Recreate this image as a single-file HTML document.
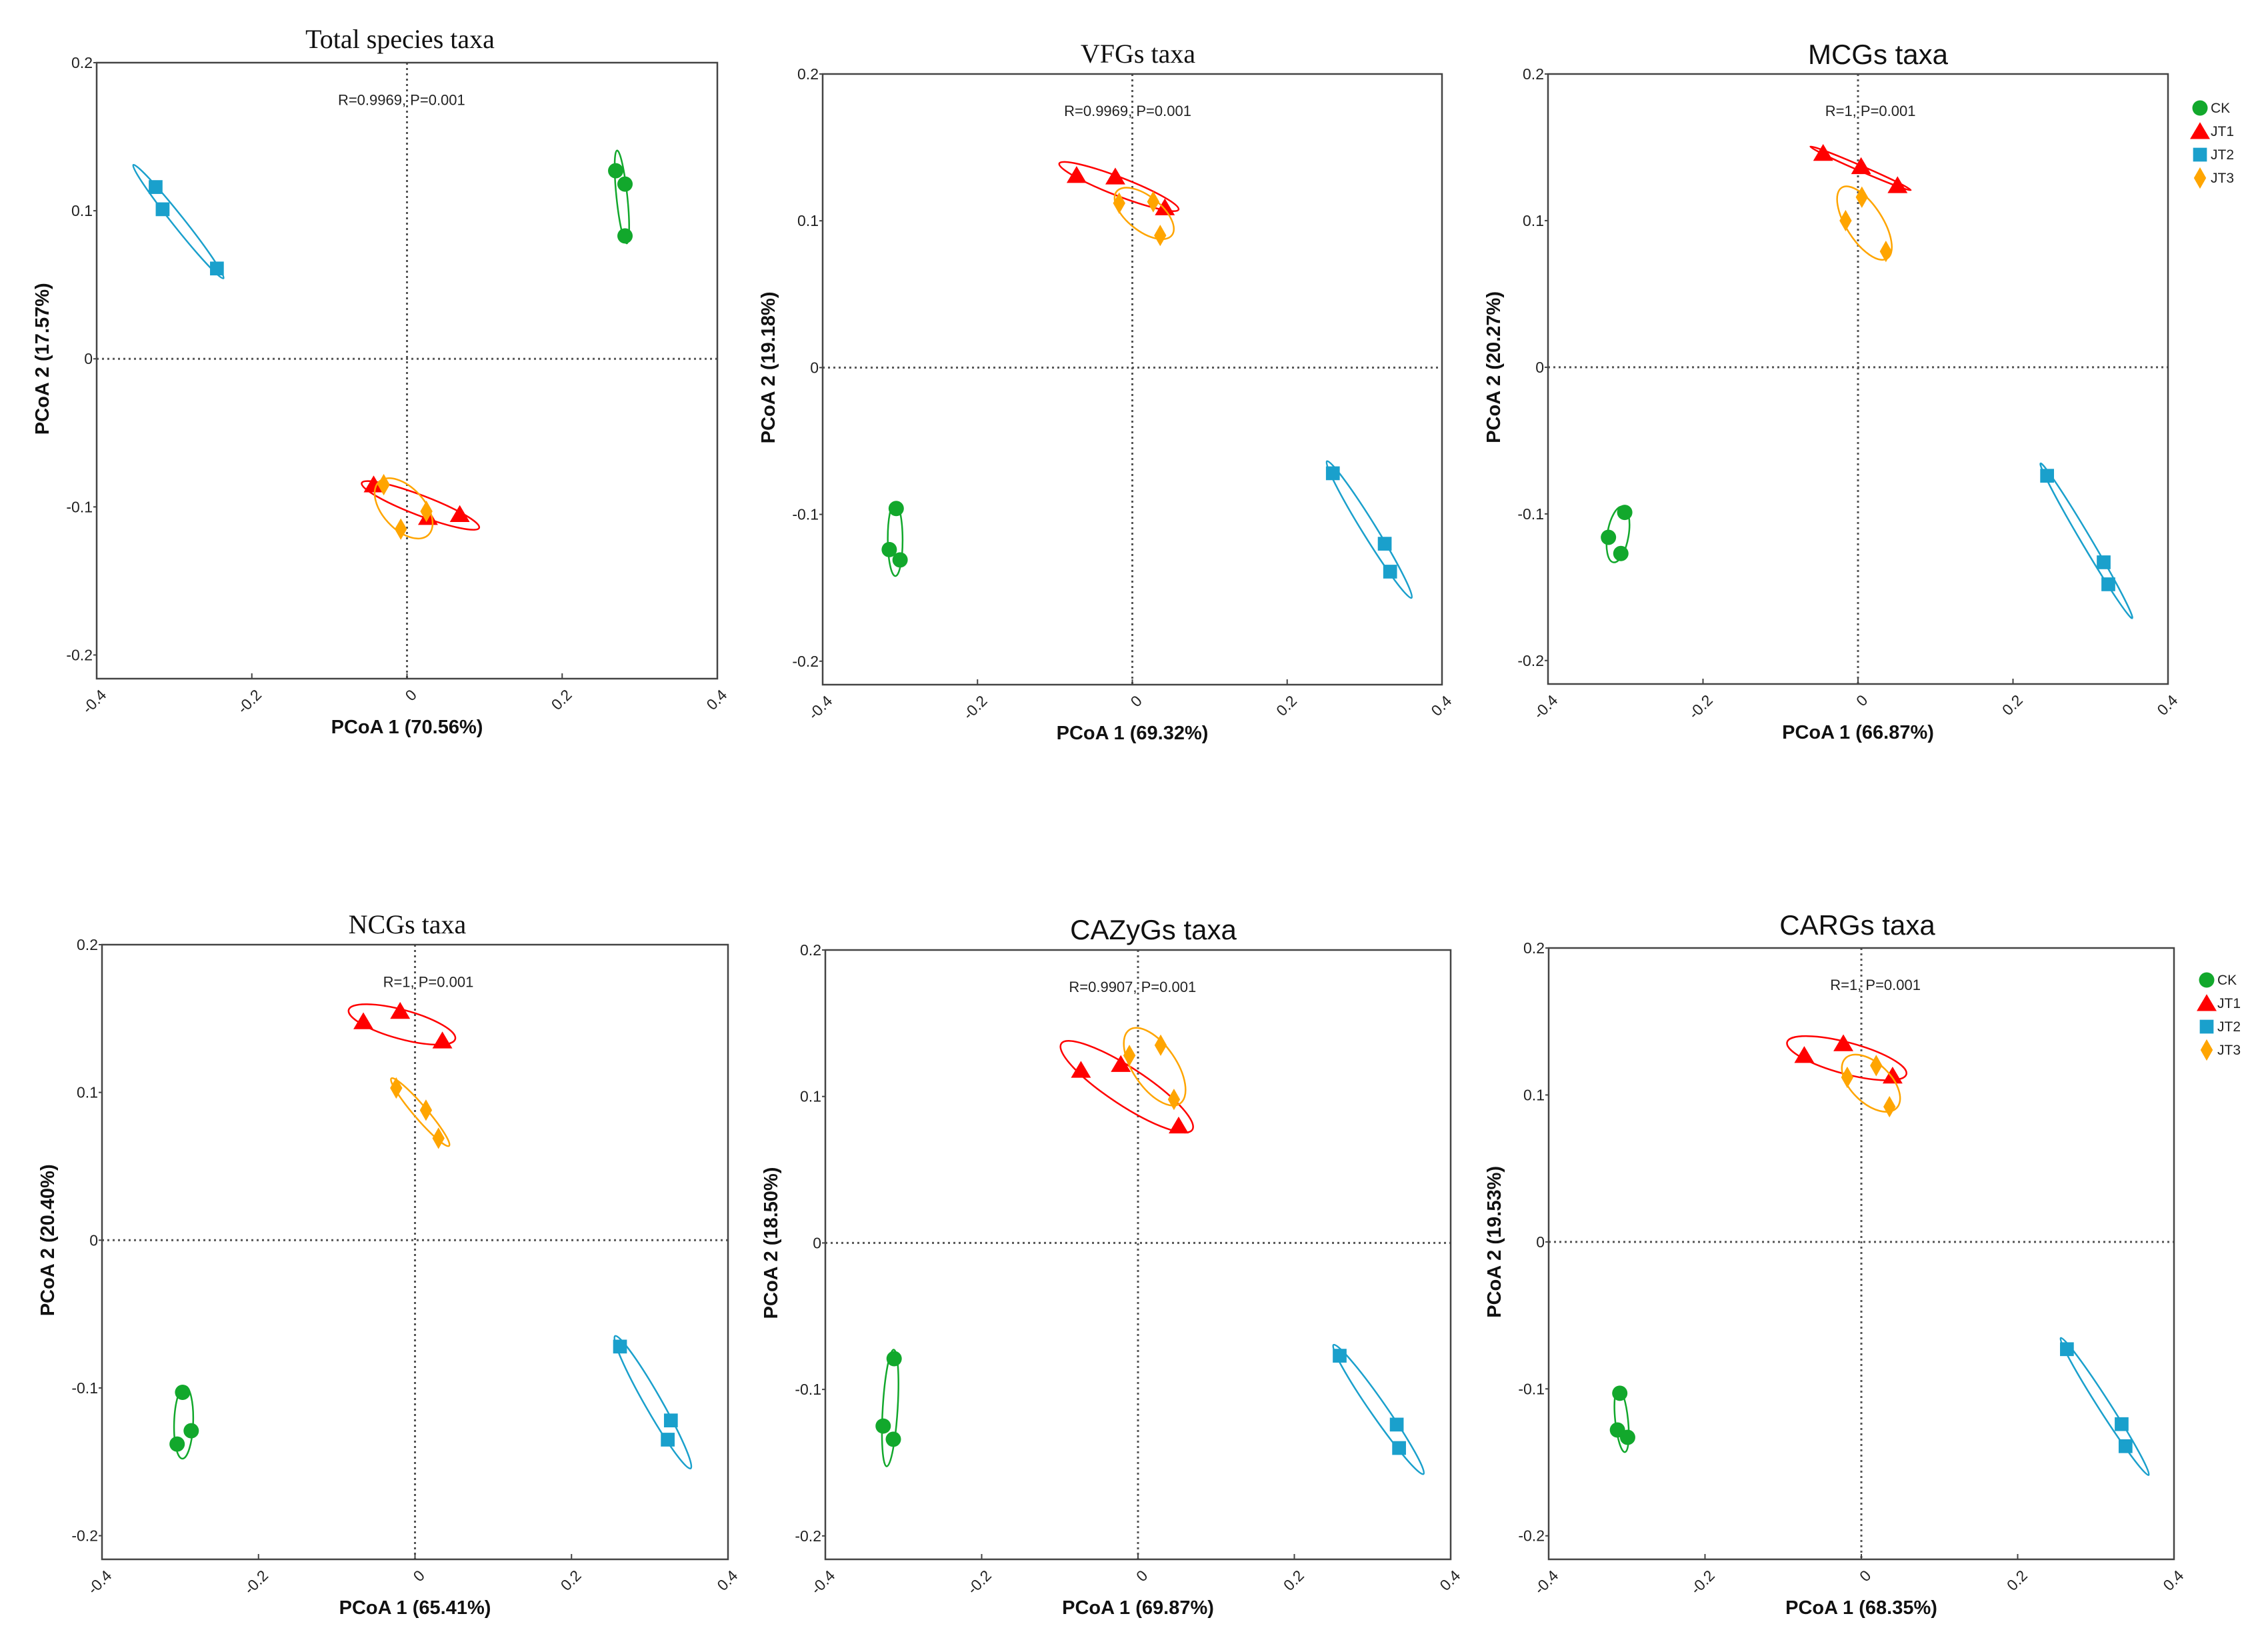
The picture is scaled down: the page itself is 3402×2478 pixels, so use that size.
<!DOCTYPE html>
<html><head><meta charset="utf-8"><style>
html,body{margin:0;padding:0;background:#fff;}
svg{display:block;}
</style></head><body>
<svg id="fig" xmlns="http://www.w3.org/2000/svg" width="3402" height="2478" viewBox="0 0 3402 2478"></svg>
<script>
// ---- data (PCoA1, PCoA2) per panel and group ----
const totalCK  = [[0.269,0.127],[0.281,0.118],[0.281,0.083]];
const totalJT1 = [[-0.043,-0.085],[0.027,-0.107],[0.068,-0.105]];
const totalJT2 = [[-0.324,0.116],[-0.315,0.101],[-0.245,0.061]];
const totalJT3 = [[-0.030,-0.085],[0.025,-0.103],[-0.008,-0.115]];

const vfgCK  = [[-0.305,-0.096],[-0.314,-0.124],[-0.300,-0.131]];
const vfgJT1 = [[-0.072,0.131],[-0.022,0.130],[0.042,0.109]];
const vfgJT2 = [[0.259,-0.072],[0.326,-0.120],[0.333,-0.139]];
const vfgJT3 = [[-0.017,0.112],[0.027,0.113],[0.036,0.090]];

const mcgCK  = [[-0.301,-0.099],[-0.322,-0.116],[-0.306,-0.127]];
const mcgJT1 = [[-0.045,0.146],[0.004,0.137],[0.051,0.124]];
const mcgJT2 = [[0.244,-0.074],[0.317,-0.133],[0.323,-0.148]];
const mcgJT3 = [[0.005,0.116],[-0.016,0.100],[0.036,0.079]];

const ncgCK  = [[-0.297,-0.103],[-0.286,-0.129],[-0.304,-0.138]];
const ncgJT1 = [[-0.066,0.148],[-0.019,0.155],[0.035,0.135]];
const ncgJT2 = [[0.262,-0.072],[0.327,-0.122],[0.323,-0.135]];
const ncgJT3 = [[-0.024,0.103],[0.014,0.088],[0.030,0.069]];

const cazCK  = [[-0.312,-0.079],[-0.326,-0.125],[-0.313,-0.134]];
const cazJT1 = [[-0.073,0.118],[-0.022,0.122],[0.052,0.080]];
const cazJT2 = [[0.258,-0.077],[0.331,-0.124],[0.334,-0.140]];
const cazJT3 = [[-0.011,0.128],[0.029,0.135],[0.046,0.098]];

const cargCK  = [[-0.309,-0.103],[-0.312,-0.128],[-0.299,-0.133]];
const cargJT1 = [[-0.073,0.127],[-0.023,0.135],[0.040,0.113]];
const cargJT2 = [[0.263,-0.073],[0.333,-0.124],[0.338,-0.139]];
const cargJT3 = [[-0.018,0.112],[0.019,0.120],[0.036,0.092]];

const panelTitles = ["Total species taxa","VFGs taxa","MCGs taxa","NCGs taxa","CAZyGs taxa","CARGs taxa"];
const xAxisTitles = ["PCoA 1 (70.56%)","PCoA 1 (69.32%)","PCoA 1 (66.87%)","PCoA 1 (65.41%)","PCoA 1 (69.87%)","PCoA 1 (68.35%)"];
const yAxisTitles = ["PCoA 2 (17.57%)","PCoA 2 (19.18%)","PCoA 2 (20.27%)","PCoA 2 (20.40%)","PCoA 2 (18.50%)","PCoA 2 (19.53%)"];
const statTexts = ["R=0.9969, P=0.001","R=0.9969, P=0.001","R=1, P=0.001","R=1, P=0.001","R=0.9907, P=0.001","R=1, P=0.001"];
const xTicks = [-0.4,-0.2,0,0.2,0.4];
const xTickLabels = ["-0.4","-0.2","0","0.2","0.4"];
const yTicks = [0.2,0.1,0,-0.1,-0.2];
const yTickLabels = ["0.2","0.1","0","-0.1","-0.2"];
const groups = ["CK","JT1","JT2","JT3"];

// ---- layout ----
const panelData = [
  [totalCK,totalJT1,totalJT2,totalJT3],
  [vfgCK,vfgJT1,vfgJT2,vfgJT3],
  [mcgCK,mcgJT1,mcgJT2,mcgJT3],
  [ncgCK,ncgJT1,ncgJT2,ncgJT3],
  [cazCK,cazJT1,cazJT2,cazJT3],
  [cargCK,cargJT1,cargJT2,cargJT3]
];
const boxes = [
  {L:145,R:1076,T:94,B:1018,serif:true,tx:600,ty:72,sdx:-0.007,legend:null},
  {L:1234,R:2163,T:111,B:1027,serif:true,tx:1707,ty:94,sdx:-0.006,legend:null},
  {L:2322,R:3252,T:111,B:1026,serif:false,tx:2817,ty:96,sdx:0.016,legend:[3300,162]},
  {L:153,R:1092,T:1417,B:2339,serif:true,tx:611,ty:1400,sdx:0.017,legend:null},
  {L:1238,R:2176,T:1425,B:2339,serif:false,tx:1730,ty:1409,sdx:-0.007,legend:null},
  {L:2323,R:3261,T:1422,B:2339,serif:false,tx:2786,ty:1402,sdx:0.018,legend:[3310,1470]}
];
const colors = {CK:"#12a82c",JT1:"#ff0000",JT2:"#1aa0cc",JT3:"#ffa500"};
const XMIN=-0.4,XMAX=0.4,YMIN=-0.216,YMAX=0.2;
const NS="http://www.w3.org/2000/svg";
const svg=document.getElementById('fig');
function mk(tag,attrs,parent){const e=document.createElementNS(NS,tag);for(const k in attrs)e.setAttribute(k,attrs[k]);(parent||svg).appendChild(e);return e;}

function marker(g,grp,cx,cy,s,parent){
  let e;
  const c=colors[grp];
  if(grp==="CK"){e=mk('circle',{cx:cx,cy:cy,r:10*s,fill:c},parent);}
  else if(grp==="JT1"){e=mk('polygon',{points:`${cx},${cy-12*s} ${cx+13*s},${cy+10*s} ${cx-13*s},${cy+10*s}`,fill:c},parent);}
  else if(grp==="JT2"){e=mk('rect',{x:cx-9*s,y:cy-9*s,width:18*s,height:18*s,fill:c},parent);}
  else {e=mk('polygon',{points:`${cx},${cy-14*s} ${cx+8*s},${cy} ${cx},${cy+14*s} ${cx-8*s},${cy}`,fill:c},parent);}
  return e;
}

boxes.forEach((b,pi)=>{
  const g=mk('g',{});
  
  
  const sx=v=>b.L+(v-XMIN)/(XMAX-XMIN)*(b.R-b.L);
  const sy=v=>b.T+(YMAX-v)/(YMAX-YMIN)*(b.B-b.T);
  const font=b.serif?'"Liberation Serif", serif':'"Liberation Sans", sans-serif';
  const t=mk('text',{x:b.tx,y:b.ty,'text-anchor':'middle','font-family':font,'font-size':b.serif?40:42,fill:'#111'},g);
  t.textContent=panelTitles[pi];
  
  
  const zx=mk('line',{x1:sx(0),x2:sx(0),y1:b.T,y2:b.B,stroke:'#555','stroke-width':3,'stroke-dasharray':'3 5'},g);
  
  
  const zy=mk('line',{x1:b.L,x2:b.R,y1:sy(0),y2:sy(0),stroke:'#555','stroke-width':3,'stroke-dasharray':'3 5'},g);
  
  
  const fr=mk('rect',{x:b.L,y:b.T,width:b.R-b.L,height:b.B-b.T,fill:'none',stroke:'#444','stroke-width':2.5},g);
  
  
  yTicks.forEach((v,i)=>{
    const y=sy(v);
    mk('line',{x1:b.L-5,x2:b.L,y1:y,y2:y,stroke:'#444','stroke-width':2},g);
    const tl=mk('text',{x:b.L-6,y:y+8,'text-anchor':'end','font-family':'"Liberation Sans", sans-serif','font-size':23,fill:'#222'},g);
    tl.textContent=yTickLabels[i];
    
    
  });
  xTicks.forEach((v,i)=>{
    const x=sx(v);
    mk('line',{x1:x,x2:x,y1:b.B,y2:b.B-8,stroke:'#444','stroke-width':2},g);
    const tl=mk('text',{x:x+4,y:b.B+14,'text-anchor':'end','font-family':'"Liberation Sans", sans-serif','font-size':23,fill:'#222',transform:`rotate(-45 ${x+4} ${b.B+14})`,'dominant-baseline':'hanging'},g);
    tl.textContent=xTickLabels[i];
    
    
  });
  const xt=mk('text',{x:sx(0),y:b.B+82,'text-anchor':'middle','font-family':'"Liberation Sans", sans-serif','font-size':29,'font-weight':'bold',fill:'#111'},g);
  xt.textContent=xAxisTitles[pi];
  
  
  const yx=b.L-72, yy=sy(0);
  const yt=mk('text',{x:yx,y:yy,'text-anchor':'middle','font-family':'"Liberation Sans", sans-serif','font-size':29,'font-weight':'bold',fill:'#111',transform:`rotate(-90 ${yx} ${yy})`},g);
  yt.textContent=yAxisTitles[pi];
  
  
  const st=mk('text',{x:sx(b.sdx),y:sy(0.175)+8,'text-anchor':'middle','font-family':'"Liberation Sans", sans-serif','font-size':22,fill:'#222'},g);
  st.textContent=statTexts[pi];
  
  
  panelData[pi].forEach((pts,gi)=>{
    const grp=groups[gi];
    const px=pts.map(p=>sx(p[0])), py=pts.map(p=>sy(p[1]));
    const n=px.length;
    const mx=px.reduce((a,c)=>a+c,0)/n, my=py.reduce((a,c)=>a+c,0)/n;
    let a=0,bb=0,c=0;
    for(let i=0;i<n;i++){a+=(px[i]-mx)**2;bb+=(px[i]-mx)*(py[i]-my);c+=(py[i]-my)**2;}
    a/=(n-1);bb/=(n-1);c/=(n-1);
    const h=(a+c)/2, d=Math.sqrt(((a-c)/2)**2+bb*bb);
    const l1=h+d, l2=Math.max(h-d,0);
    const ang=0.5*Math.atan2(2*bb,a-c)*180/Math.PI;
    const k=1.35;
    const el=mk('ellipse',{cx:mx,cy:my,rx:k*Math.sqrt(l1),ry:Math.max(k*Math.sqrt(l2),4),fill:'none',stroke:colors[grp],'stroke-width':2.5,transform:`rotate(${ang} ${mx} ${my})`},g);
    
    
    for(let i=0;i<n;i++){
      const m=marker(g,grp,px[i],py[i],1.15,g);
      
      
    }
  });
  if(b.legend){
    const lg=mk('g',{},g);
    
    
    groups.forEach((grp,i)=>{
      const lx=b.legend[0], ly=b.legend[1]+i*35;
      const m=marker(lg,grp,lx,ly,1.15,lg);
      
      
      const lt=mk('text',{x:lx+16,y:ly+7,'font-family':'"Liberation Sans", sans-serif','font-size':21,fill:'#222'},lg);
      lt.textContent=grp;
      
      
    });
  }
});
</script>
</body></html>
